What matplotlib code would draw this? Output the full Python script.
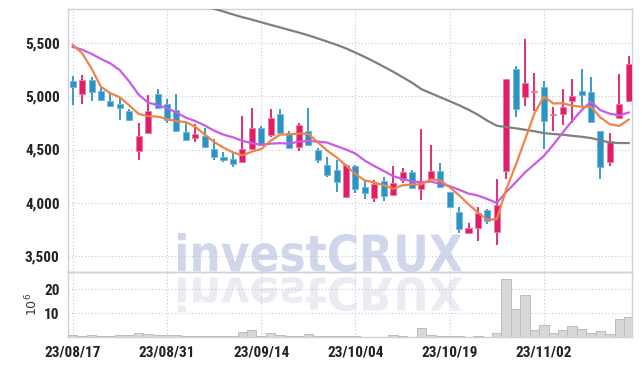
import numpy as np
import matplotlib
matplotlib.use('Agg')
import matplotlib.pyplot as plt
from matplotlib import font_manager
from matplotlib.font_manager import FontProperties
from matplotlib.textpath import TextPath
from matplotlib.patches import PathPatch
from matplotlib.transforms import Affine2D

# daily candles, 2023/08/17 .. 2023/11/15 (trading days)
tick_pos = [0, 10, 20, 30, 40, 50]
tick_labels = ['23/08/17', '23/08/31', '23/09/14', '23/10/04', '23/10/19', '23/11/02']

open_ = [5148, 5022, 5157, 5047, 4959, 4931, 4865, 4490, 4651, 5025,
         4931, 4874, 4667, 4604, 4629, 4504, 4428, 4410, 4378, 4504,
         4702, 4639, 4834, 4660, 4523, 4677, 4497, 4356, 4309, 4057,
         4347, 4151, 4048, 4199, 4073, 4214, 4290, 4132, 4227, 4296,
         4101, 3913, 3711, 3759, 3932, 3720, 4302, 5261, 4991, 5038,
         5088, 4821, 4830, 4953, 5054, 5038, 4675, 4381, 4796, 4953]
high = [5189, 5198, 5180, 5090, 5030, 4985, 4880, 4750, 5015, 5070,
        4975, 5019, 4750, 4736, 4705, 4598, 4479, 4479, 4818, 4890,
        4717, 4880, 4881, 4679, 4749, 4890, 4519, 4428, 4403, 4362,
        4350, 4208, 4214, 4245, 4347, 4325, 4309, 4690, 4540, 4372,
        4103, 3963, 3812, 3963, 3941, 4224, 5164, 5290, 5541, 5220,
        5142, 4896, 5070, 5164, 5258, 5183, 4675, 4660, 5211, 5377]
low = [4919, 4931, 4953, 4955, 4900, 4780, 4772, 4403, 4648, 4880,
       4750, 4668, 4590, 4570, 4510, 4403, 4381, 4340, 4376, 4502,
       4543, 4615, 4653, 4517, 4485, 4530, 4372, 4240, 4104, 4055,
       4095, 4032, 4010, 4019, 4071, 4183, 4134, 4026, 4225, 4149,
       3961, 3711, 3709, 3642, 3800, 3600, 4221, 4805, 4912, 4859,
       4507, 4677, 4727, 4749, 4912, 4755, 4224, 4347, 4794, 4943]
close = [5085, 5157, 5038, 4962, 4906, 4895, 4775, 4630, 4865, 4887,
         4780, 4670, 4592, 4642, 4528, 4425, 4403, 4365, 4504, 4702,
         4545, 4796, 4655, 4519, 4733, 4538, 4397, 4262, 4198, 4356,
         4130, 4095, 4177, 4064, 4189, 4290, 4136, 4183, 4296, 4151,
         3963, 3752, 3762, 3900, 3825, 3978, 5164, 4884, 5126, 5054,
         4764, 4837, 4900, 5007, 5009, 4755, 4335, 4582, 4931, 5308]
# volume, millions of shares
volume = [1.0, 0.3, 0.7, 0.3, 0.3, 0.7, 0.7, 1.6, 1.1, 0.7,
          0.7, 0.7, 0.3, 0.3, 0.3, 0.3, 0.3, 0.3, 2.2, 2.8,
          0.3, 1.5, 0.7, 0.3, 0.6, 1.1, 0.3, 0.3, 0.3, 0.3,
          0.3, 0.1, 0.1, 0.1, 0.7, 0.3, 0.1, 3.9, 1.0, 0.3,
          0.3, 0.3, 0.1, 0.3, 0.1, 1.8, 24.3, 11.5, 17.7, 3.1,
          5.2, 1.8, 3.1, 4.5, 3.5, 1.8, 2.3, 1.4, 7.3, 8.2]
# moving averages
ma_short = [5487, 5405, 5262, 5090, 5030, 4992, 4915, 4834, 4814, 4810,
            4787, 4766, 4759, 4714, 4642, 4571, 4518, 4473, 4445, 4480,
            4504, 4582, 4640, 4643, 4650, 4648, 4568, 4490, 4426, 4350,
            4269, 4208, 4191, 4164, 4131, 4163, 4171, 4172, 4219, 4211,
            4146, 4069, 3985, 3906, 3840, 3843, 4126, 4350, 4595, 4841,
            4998, 4933, 4936, 4912, 4903, 4902, 4801, 4738, 4722, 4782]
ma_mid = [5466, 5440, 5400, 5353, 5310, 5247, 5140, 5016, 4942, 4918,
          4891, 4848, 4800, 4768, 4727, 4677, 4640, 4615, 4582, 4560,
          4545, 4555, 4560, 4555, 4575, 4580, 4575, 4565, 4532, 4500,
          4462, 4395, 4345, 4298, 4250, 4222, 4200, 4192, 4198, 4177,
          4155, 4122, 4085, 4067, 4034, 3997, 4100, 4190, 4285, 4362,
          4440, 4545, 4660, 4770, 4870, 4950, 4870, 4837, 4822, 4848]
ma_long = [None] * 14 + [
    5850, 5825, 5799, 5772, 5746, 5723,
    5698, 5673, 5650, 5625, 5601, 5575, 5546, 5516, 5486, 5452,
    5412, 5371, 5327, 5280, 5233, 5181, 5129, 5068, 5030, 4992,
    4955, 4917, 4875, 4827, 4771, 4724, 4711, 4700, 4686, 4672,
    4655, 4646, 4639, 4629, 4620, 4608, 4587, 4566, 4561, 4561]

RED = '#e21c68'
BLUE = '#2b93c6'

avail = {f.name for f in font_manager.fontManager.ttflist}
tick_font = next((n for n in ['Liberation Sans Narrow', 'Roboto Condensed']
                  if n in avail), 'DejaVu Sans')

W, H = 642, 366
fig = plt.figure(figsize=(W / 100, H / 100), dpi=100)
fig.patch.set_facecolor('white')

L, R, T, M, B = 68, 632.3, 9.3, 272, 337
ax = fig.add_axes([L / W, 1 - M / H, (R - L) / W, (M - T) / H])
axv = fig.add_axes([L / W, 1 - B / H, (R - L) / W, (B - M) / H], sharex=ax)

idx = np.arange(len(close))
o = np.array(open_, float)
c = np.array(close, float)
up = c >= o
cols = np.where(up, RED, BLUE)
edge = np.where(up, '#f07aa6', '#6fb8dc')
bottom = np.minimum(o, c)
height = np.maximum(np.abs(c - o), 10)

ax.vlines(idx, low, high, colors=cols, lw=1.3, zorder=3)
ax.bar(idx, height, bottom=bottom, width=0.64, color=cols, edgecolor=edge,
       linewidth=0.6, zorder=4)

ma_long_arr = np.array([np.nan if v is None else v for v in ma_long], float)
ax.plot(idx, ma_long_arr, color='#7f7f7f', lw=1.6, zorder=5)
ax.plot(idx, ma_mid, color='#c95be9', lw=1.6, zorder=6)
ax.plot(idx, ma_short, color='#ef8447', lw=1.6, zorder=7)

axv.bar(idx, volume, width=1.0, color='#d8d8d8', edgecolor='#bcbcbc',
        linewidth=0.7, zorder=3)

ax.set_xlim(-0.5, 59.38)
ax.set_ylim(3347, 5820)
axv.set_ylim(0, 27.1)

grid_kw = dict(color='#c3c7de', linestyle=(0, (1, 2)), linewidth=0.8)
for a in (ax, axv):
    a.set_facecolor('none')
    a.grid(True, **grid_kw)
    a.set_axisbelow(True)
    for s in a.spines.values():
        s.set_color('#cfd0da')
        s.set_linewidth(1.0)
    a.tick_params(length=0, colors='#222222', labelsize=11, pad=6)

ax.set_yticks([3500, 4000, 4500, 5000, 5500])
ax.set_yticklabels(['{:,}'.format(v) for v in [3500, 4000, 4500, 5000, 5500]])
ax.set_xticks(tick_pos)
ax.tick_params(labelbottom=False)
axv.set_yticks([10, 20])
axv.set_xticks(tick_pos)
axv.set_xticklabels(tick_labels)
axv.set_ylabel('$10^6$', fontsize=9, color='#333333', labelpad=3)

for lab in ax.get_yticklabels() + axv.get_yticklabels() + axv.get_xticklabels():
    lab.set_fontfamily(tick_font)
    lab.set_fontweight('bold')

# watermark with its reflection
fp = FontProperties(family='DejaVu Sans', weight='bold')
tp = TextPath((0, 0), 'investCRUX', size=1, prop=fp)
ext = tp.get_extents()


def place(x0, x1, ytop, ybot, flip, color):
    sx = (x1 - x0) / ext.width / W
    sy = (ybot - ytop) / ext.height / H
    t = Affine2D().translate(-ext.x0, -ext.y0)
    if flip:
        t = t.scale(sx, -sy).translate(x0 / W, 1 - ytop / H)
    else:
        t = t.scale(sx, sy).translate(x0 / W, 1 - ybot / H)
    p = PathPatch(t.transform_path(tp), facecolor=color, edgecolor='none',
                  transform=fig.transFigure, zorder=-1)
    fig.patches.append(p)


place(178, 462, 233, 272, False, '#d1d7ea')
place(178, 462, 277, 312, True, '#ebebf2')

fig.savefig('out.png', dpi=100, facecolor='white')
